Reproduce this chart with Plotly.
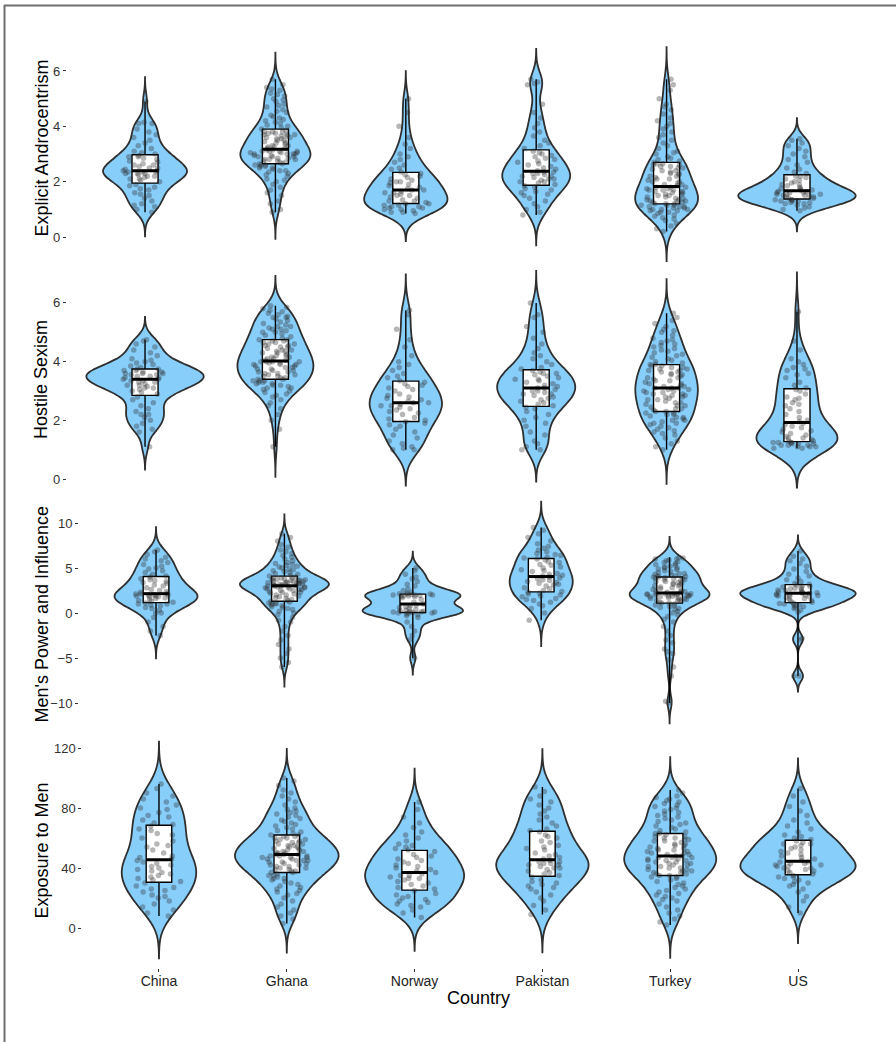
import numpy as np
import plotly.graph_objects as go

countries = ["China", "Ghana", "Norway", "Pakistan", "Turkey", "US"]
measures = ["Explicit Androcentrism", "Hostile Sexism", "Men's Power and Influence", "Exposure to Men"]

# ---------------- Explicit Androcentrism ----------------
ea_china = [0.9, 1.0, 1.1, 1.15, 1.2, 1.3, 1.4, 1.5, 1.55, 1.6, 1.7, 1.75, 1.8, 1.85, 1.9,
            2.0, 2.05, 2.1, 2.1, 2.15, 2.2, 2.2, 2.25, 2.3, 2.3, 2.3, 2.35, 2.35, 2.35, 2.4,
            2.4, 2.45, 2.5, 2.5, 2.55, 2.6, 2.6, 2.65, 2.7, 2.75, 2.8, 2.85, 2.9, 2.9, 2.95,
            3.0, 3.05, 3.1, 3.2, 3.3, 3.4, 3.5, 3.6, 3.7, 3.8, 3.9, 4.1, 4.1, 4.15, 4.9]
ea_ghana = [0.9, 1.0, 1.2, 1.3, 1.5, 1.6, 1.7, 1.8, 1.9, 2.0, 2.05, 2.1, 2.2, 2.25, 2.3, 2.35, 2.4, 2.4,
            2.45, 2.5, 2.5, 2.55, 2.55, 2.6, 2.6, 2.6, 2.65,
            2.65, 2.7, 2.7, 2.75, 2.75, 2.8, 2.8, 2.8, 2.85, 2.85, 2.9, 2.9, 2.9, 2.95, 2.95, 3.0, 3.0,
            3.0, 3.0, 3.05, 3.05, 3.05, 3.1, 3.1, 3.1, 3.1, 3.15,
            3.15, 3.2, 3.2, 3.25, 3.25, 3.3, 3.3, 3.35, 3.4, 3.4, 3.45, 3.5, 3.5, 3.55, 3.55, 3.6, 3.6,
            3.65, 3.65, 3.7, 3.7, 3.7, 3.75, 3.75, 3.8, 3.8, 3.8, 3.85,
            3.9, 3.95, 4.0, 4.05, 4.1, 4.15, 4.2, 4.25, 4.3, 4.35, 4.4, 4.5, 4.55, 4.6, 4.7, 4.75, 4.8,
            4.9, 4.95, 5.0, 5.1, 5.15, 5.2, 5.3, 5.35, 5.4, 5.5, 5.7]
ea_norway = [0.85, 0.9, 0.9, 0.95, 1.0, 1.0, 1.05, 1.05, 1.1, 1.1, 1.15, 1.15, 1.2, 1.2,
             1.25, 1.3, 1.3, 1.35, 1.4, 1.45, 1.5, 1.5, 1.55, 1.6, 1.6, 1.65, 1.7, 1.7,
             1.75, 1.8, 1.85, 1.9, 1.95, 2.0, 2.0, 2.05, 2.1, 2.15, 2.2, 2.25, 2.3,
             2.35, 2.45, 2.5, 2.6, 2.7, 2.8, 2.9, 3.0, 3.2, 3.35, 3.6, 4.0, 4.5, 5.0]
ea_pakistan = [0.8, 0.9, 1.0, 1.1, 1.2, 1.3, 1.4, 1.5, 1.55, 1.6, 1.65, 1.7, 1.75, 1.8, 1.85,
               1.9, 1.95, 2.0, 2.0, 2.05, 2.1, 2.1, 2.15, 2.2, 2.2, 2.25, 2.3, 2.3, 2.35, 2.35,
               2.4, 2.45, 2.5, 2.55, 2.6, 2.65, 2.7, 2.75, 2.8, 2.85, 2.9, 2.95, 3.0, 3.05, 3.1,
               3.2, 3.3, 3.4, 3.5, 3.65, 3.8, 3.95, 4.1, 4.3, 4.5, 4.8, 5.5, 5.55, 5.6, 5.7]
ea_turkey = [0.2, 0.3, 0.4, 0.5, 0.6, 0.65, 0.7, 0.75, 0.8, 0.85, 0.9, 0.9, 0.95, 0.95, 1.0, 1.0,
             1.0, 1.05, 1.05, 1.1, 1.1, 1.1, 1.15, 1.15, 1.15, 1.2, 1.2,
             1.2, 1.25, 1.25, 1.3, 1.3, 1.3, 1.35, 1.35, 1.4, 1.4, 1.45, 1.45, 1.5, 1.5, 1.55, 1.55,
             1.6, 1.6, 1.65, 1.65, 1.7, 1.7, 1.7, 1.75, 1.75, 1.8, 1.8, 1.8,
             1.85, 1.9, 1.9, 1.95, 2.0, 2.0, 2.05, 2.1, 2.1, 2.15, 2.2, 2.2, 2.25, 2.3, 2.3, 2.35,
             2.4, 2.4, 2.45, 2.5, 2.5, 2.55, 2.55, 2.6, 2.6, 2.65, 2.65,
             2.7, 2.75, 2.8, 2.85, 2.9, 3.0, 3.05, 3.1, 3.2, 3.3, 3.4, 3.5, 3.6, 3.7, 3.8, 3.9,
             4.0, 4.1, 4.2, 4.3, 4.45, 4.6, 4.7, 4.8, 5.0, 5.3, 5.5, 5.7]
ea_us = [0.95, 1.0, 1.05, 1.1, 1.15, 1.2, 1.2, 1.25, 1.25, 1.3, 1.3, 1.3, 1.35, 1.35, 1.35,
         1.4, 1.4, 1.45, 1.45, 1.5, 1.5, 1.5, 1.55, 1.55, 1.55, 1.6, 1.6, 1.6, 1.65, 1.65,
         1.7, 1.7, 1.75, 1.75, 1.8, 1.85, 1.9, 1.9, 1.95, 2.0, 2.05, 2.1, 2.15, 2.2, 2.2,
         2.3, 2.35, 2.45, 2.5, 2.6, 2.7, 2.8, 2.9, 3.0, 3.1, 3.2, 3.3, 3.4, 3.5, 3.55]

# ---------------- Hostile Sexism ----------------
hs_china = [1.1, 1.6, 1.7, 1.8, 1.9, 2.0, 2.1, 2.2, 2.2, 2.3, 2.4, 2.5, 2.6, 2.7, 2.8,
            2.9, 2.95, 3.0, 3.05, 3.1, 3.1, 3.15, 3.2, 3.2, 3.25, 3.3, 3.3, 3.35, 3.35, 3.4,
            3.4, 3.45, 3.45, 3.5, 3.5, 3.55, 3.55, 3.6, 3.6, 3.6, 3.65, 3.65, 3.7, 3.7, 3.75,
            3.75, 3.8, 3.85, 3.9, 3.95, 4.0, 4.05, 4.1, 4.2, 4.3, 4.4, 4.5, 4.6, 4.7, 4.75]
hs_ghana = [1.1, 1.7, 2.0, 2.2, 2.4, 2.5, 2.6, 2.7, 2.8, 2.85, 2.9, 2.95, 3.0, 3.05, 3.1, 3.1, 3.15,
            3.2, 3.2, 3.25, 3.25, 3.3, 3.3, 3.35, 3.35, 3.35, 3.4,
            3.4, 3.45, 3.45, 3.5, 3.5, 3.55, 3.55, 3.6, 3.6, 3.65, 3.65, 3.7, 3.7, 3.75, 3.75, 3.8,
            3.8, 3.85, 3.85, 3.9, 3.9, 3.9, 3.95, 3.95, 4.0, 4.0, 4.0, 4.0,
            4.05, 4.05, 4.1, 4.1, 4.15, 4.15, 4.2, 4.2, 4.25, 4.3, 4.3, 4.35, 4.35, 4.4, 4.4, 4.45,
            4.5, 4.5, 4.55, 4.55, 4.6, 4.6, 4.65, 4.65, 4.7, 4.7, 4.75,
            4.75, 4.8, 4.85, 4.9, 4.95, 5.0, 5.0, 5.05, 5.1, 5.1, 5.15, 5.2, 5.2, 5.25, 5.3, 5.35,
            5.4, 5.45, 5.5, 5.5, 5.55, 5.6, 5.65, 5.7, 5.75, 5.8, 5.85, 5.9]
hs_norway = [1.0, 1.0, 1.05, 1.1, 1.2, 1.3, 1.4, 1.5, 1.6, 1.7, 1.8, 1.85, 1.9, 1.95,
             2.0, 2.05, 2.1, 2.2, 2.25, 2.3, 2.35, 2.4, 2.45, 2.5, 2.5, 2.55, 2.6, 2.6,
             2.65, 2.7, 2.75, 2.8, 2.85, 2.9, 3.0, 3.05, 3.1, 3.15, 3.2, 3.25, 3.3,
             3.35, 3.45, 3.5, 3.6, 3.7, 3.8, 3.9, 4.0, 4.2, 4.5, 4.75, 5.1, 5.6, 5.75]
hs_pakistan = [1.0, 1.0, 1.1, 1.2, 1.3, 1.5, 1.6, 1.8, 1.9, 2.0, 2.1, 2.2, 2.3, 2.4, 2.45,
               2.5, 2.55, 2.6, 2.65, 2.7, 2.75, 2.8, 2.85, 2.9, 2.9, 2.95, 3.0, 3.0, 3.05, 3.1,
               3.1, 3.15, 3.2, 3.25, 3.3, 3.35, 3.4, 3.4, 3.45, 3.5, 3.55, 3.6, 3.6, 3.65, 3.7,
               3.75, 3.8, 3.9, 4.0, 4.1, 4.2, 4.3, 4.45, 4.6, 4.8, 5.0, 5.2, 5.5, 5.6, 6.0]
hs_turkey = [1.0, 1.1, 1.2, 1.3, 1.4, 1.5, 1.55, 1.6, 1.65, 1.7, 1.75, 1.8, 1.85, 1.9, 1.9, 1.95,
             2.0, 2.0, 2.05, 2.1, 2.1, 2.15, 2.2, 2.2, 2.25, 2.25, 2.3,
             2.3, 2.35, 2.4, 2.4, 2.45, 2.5, 2.5, 2.55, 2.6, 2.6, 2.65, 2.7, 2.7, 2.75, 2.8, 2.8,
             2.85, 2.85, 2.9, 2.9, 2.95, 2.95, 3.0, 3.0, 3.05, 3.05, 3.1, 3.1,
             3.1, 3.15, 3.15, 3.2, 3.25, 3.25, 3.3, 3.35, 3.35, 3.4, 3.45, 3.45, 3.5, 3.55, 3.55,
             3.6, 3.65, 3.65, 3.7, 3.7, 3.75, 3.75, 3.8, 3.8, 3.85, 3.85, 3.9,
             3.9, 3.95, 4.0, 4.05, 4.1, 4.15, 4.2, 4.25, 4.3, 4.35, 4.4, 4.45, 4.5, 4.55, 4.6, 4.65,
             4.7, 4.75, 4.8, 4.9, 5.0, 5.05, 5.1, 5.2, 5.3, 5.4, 5.5, 5.65]
hs_us = [1.05, 1.05, 1.1, 1.1, 1.1, 1.15, 1.15, 1.15, 1.2, 1.2, 1.2, 1.25, 1.25, 1.25, 1.25,
         1.3, 1.3, 1.35, 1.4, 1.4, 1.45, 1.5, 1.55, 1.6, 1.65, 1.7, 1.75, 1.8, 1.85, 1.9,
         1.95, 2.0, 2.1, 2.2, 2.3, 2.4, 2.5, 2.55, 2.6, 2.7, 2.75, 2.8, 2.9, 3.0, 3.05,
         3.1, 3.2, 3.3, 3.45, 3.55, 3.6, 3.7, 3.75, 3.8, 3.9, 4.0, 4.1, 4.4, 4.7, 5.7]

# ---------------- Men's Power and Influence ----------------
mp_china = [-2.5, -2.0, -1.5, -1.0, -0.5, 0.0, 0.0, 0.3, 0.5, 0.6, 0.8, 0.9, 1.0, 1.0, 1.1,
            1.2, 1.3, 1.4, 1.5, 1.6, 1.7, 1.8, 1.8, 1.9, 1.9, 2.0, 2.0, 2.0, 2.1, 2.1,
            2.2, 2.3, 2.4, 2.5, 2.6, 2.8, 3.0, 3.1, 3.3, 3.4, 3.5, 3.6, 3.7, 3.8, 4.0,
            4.1, 4.3, 4.5, 4.7, 4.9, 5.0, 5.2, 5.4, 5.6, 5.8, 6.0, 6.2, 6.5, 6.8, 7.0]
mp_ghana = [-6.0, -5.5, -5.0, -4.5, -4.0, -3.5, -3.0, -2.5, -2.0, -1.5, -1.0, -0.8, -0.5, -0.2,
            0.0, 0.2, 0.4, 0.5, 0.6, 0.7, 0.8, 0.9, 1.0, 1.0, 1.1, 1.1, 1.2,
            1.3, 1.4, 1.5, 1.6, 1.7, 1.8, 1.9, 2.0, 2.0, 2.1, 2.2, 2.3, 2.3, 2.4, 2.5, 2.5, 2.6,
            2.6, 2.7, 2.7, 2.8, 2.8, 2.9, 2.9, 2.9, 3.0, 3.0, 3.0,
            3.05, 3.1, 3.1, 3.15, 3.2, 3.2, 3.25, 3.3, 3.3, 3.35, 3.4, 3.4, 3.45, 3.5, 3.5, 3.55,
            3.6, 3.6, 3.65, 3.7, 3.7, 3.75, 3.8, 3.85, 3.9, 3.95, 4.0,
            4.1, 4.2, 4.3, 4.4, 4.5, 4.6, 4.7, 4.8, 4.9, 5.0, 5.1, 5.2, 5.3, 5.4, 5.5, 5.6, 5.8,
            6.0, 6.2, 6.4, 6.6, 6.8, 7.0, 7.3, 7.6, 8.0, 8.4, 8.8]
mp_norway = [-5.0, -3.0, -2.5, -2.0, -1.5, -1.0, -0.5, -0.3, -0.2, -0.1, 0.0, 0.0, 0.0, 0.05,
             0.1, 0.1, 0.15, 0.2, 0.2, 0.25, 0.3, 0.4, 0.5, 0.6, 0.7, 0.8, 0.9, 1.0,
             1.2, 1.5, 1.7, 1.8, 1.85, 1.9, 1.9, 1.95, 2.0, 2.0, 2.0, 2.05, 2.1,
             2.1, 2.15, 2.2, 2.3, 2.5, 2.7, 3.0, 3.2, 3.5, 3.8, 4.0, 4.3, 4.7, 5.0]
mp_pakistan = [-0.8, 0.0, 0.5, 0.8, 1.0, 1.2, 1.4, 1.5, 1.6, 1.8, 1.9, 2.0, 2.1, 2.2, 2.3,
               2.4, 2.5, 2.7, 2.8, 3.0, 3.1, 3.2, 3.3, 3.4, 3.5, 3.6, 3.7, 3.8, 3.9, 4.0,
               4.1, 4.2, 4.3, 4.4, 4.6, 4.7, 4.8, 5.0, 5.1, 5.3, 5.4, 5.6, 5.7, 5.9, 6.0,
               6.1, 6.2, 6.4, 6.5, 6.6, 6.8, 7.0, 7.2, 7.4, 7.7, 8.0, 8.4, 8.8, 9.2, 9.5]
mp_turkey = [-10.0, -9.8, -7.0, -6.0, -5.2, -4.5, -4.3, -4.0, -3.3, -3.0, -2.5, -2.0, -1.5, -1.0,
             -0.7, -0.4, -0.2, 0.0, 0.2, 0.4, 0.5, 0.6, 0.7, 0.8, 0.9, 1.0, 1.1,
             1.1, 1.2, 1.3, 1.4, 1.4, 1.5, 1.5, 1.6, 1.6, 1.7, 1.7, 1.8, 1.8, 1.85, 1.9, 1.9,
             1.95, 2.0, 2.0, 2.0, 2.05, 2.1, 2.1, 2.1, 2.15, 2.15, 2.2, 2.2,
             2.25, 2.3, 2.35, 2.4, 2.45, 2.5, 2.6, 2.7, 2.8, 2.9, 3.0, 3.0, 3.1, 3.2, 3.3, 3.3,
             3.4, 3.5, 3.5, 3.6, 3.7, 3.7, 3.8, 3.8, 3.9, 3.95, 4.0,
             4.0, 4.05, 4.1, 4.15, 4.2, 4.3, 4.35, 4.4, 4.5, 4.6, 4.7, 4.8, 4.9, 5.0, 5.0, 5.1,
             5.2, 5.3, 5.4, 5.5, 5.6, 5.7, 5.8, 5.9, 6.0, 6.0, 6.1, 6.2]
mp_us = [-7.0, -7.0, -3.0, -2.8, 0.1, 0.3, 0.5, 0.6, 0.7, 0.8, 0.9, 1.0, 1.0, 1.05, 1.1,
         1.2, 1.3, 1.4, 1.5, 1.6, 1.7, 1.8, 1.85, 1.9, 1.95, 2.0, 2.0, 2.05, 2.1, 2.2,
         2.2, 2.25, 2.3, 2.35, 2.4, 2.5, 2.55, 2.6, 2.7, 2.75, 2.8, 2.9, 2.95, 3.0, 3.1,
         3.2, 3.3, 3.5, 3.7, 3.9, 4.1, 4.3, 4.6, 4.9, 5.2, 5.5, 5.8, 6.0, 6.3, 6.9]

# ---------------- Exposure to Men ----------------
em_china = [8, 10, 12, 14, 16, 18, 20, 21, 22, 24, 25, 26, 27, 28, 30,
            31, 32, 33, 34, 35, 36, 37, 38, 39, 40, 41, 42, 43, 44, 45,
            46, 47, 48, 50, 52, 54, 55, 56, 58, 60, 62, 63, 65, 66, 68,
            69, 70, 72, 74, 75, 77, 79, 80, 82, 84, 86, 88, 90, 93, 96]
em_ghana = [3, 6, 8, 10, 12, 14, 16, 18, 20, 22, 23, 24, 25, 26, 27, 28, 29, 30, 31, 32, 33, 33,
            34, 35, 35, 36, 37,
            37, 38, 38, 39, 39, 40, 40, 41, 41, 42, 42, 43, 43, 44, 44, 45, 45, 45, 46, 46, 47,
            47, 47, 48, 48, 48, 49, 49,
            49, 50, 50, 50, 51, 51, 52, 52, 53, 53, 54, 54, 55, 55, 56, 56, 57, 57, 58, 58, 59,
            59, 60, 60, 61, 61, 62,
            62, 63, 64, 65, 66, 67, 68, 69, 70, 71, 72, 73, 74, 75, 76, 77, 78, 79, 80, 82, 84,
            86, 88, 90, 92, 95, 98, 100]
em_norway = [7, 10, 12, 14, 15, 16, 17, 18, 19, 20, 21, 22, 23, 25,
             26, 27, 28, 29, 30, 31, 32, 33, 33, 34, 35, 35, 36, 37,
             38, 39, 40, 41, 42, 43, 44, 45, 46, 47, 48, 49, 51,
             52, 53, 54, 55, 56, 58, 60, 62, 64, 67, 70, 74, 79, 84]
em_pakistan = [9, 12, 15, 18, 20, 22, 24, 26, 27, 28, 29, 30, 31, 32, 34,
               35, 36, 37, 38, 39, 40, 40, 41, 42, 42, 43, 43, 44, 44, 45,
               46, 47, 48, 49, 50, 52, 53, 54, 55, 57, 58, 60, 61, 62, 64,
               65, 66, 68, 70, 72, 74, 76, 78, 80, 82, 84, 86, 88, 91, 94]
em_turkey = [2, 4, 6, 8, 10, 12, 14, 16, 18, 19, 20, 21, 22, 23, 24, 25, 26, 27, 28, 29, 30, 31,
             32, 33, 34, 34, 35,
             35, 36, 36, 37, 37, 38, 38, 39, 39, 40, 40, 41, 41, 42, 42, 43, 43, 44, 44, 45, 45,
             45, 46, 46, 47, 47, 47, 48,
             48, 49, 49, 50, 50, 51, 51, 52, 52, 53, 53, 54, 55, 55, 56, 56, 57, 58, 58, 59, 59,
             60, 60, 61, 61, 62, 63,
             63, 64, 65, 66, 67, 68, 69, 70, 71, 72, 73, 74, 75, 76, 77, 78, 79, 80, 81, 82, 83,
             84, 85, 86, 87, 88, 90, 92]
em_us = [10, 14, 18, 21, 24, 26, 28, 29, 30, 31, 32, 33, 34, 34, 35,
         36, 37, 38, 38, 39, 40, 40, 41, 41, 42, 42, 43, 43, 44, 44,
         45, 46, 47, 48, 49, 50, 51, 52, 53, 54, 55, 56, 56, 57, 58,
         59, 60, 61, 62, 64, 66, 68, 70, 72, 75, 78, 81, 84, 88, 93]

rows = [
    [ea_china, ea_ghana, ea_norway, ea_pakistan, ea_turkey, ea_us],
    [hs_china, hs_ghana, hs_norway, hs_pakistan, hs_turkey, hs_us],
    [mp_china, mp_ghana, mp_norway, mp_pakistan, mp_turkey, mp_us],
    [em_china, em_ghana, em_norway, em_pakistan, em_turkey, em_us],
]
y_ticks = [[0, 2, 4, 6], [0, 2, 4, 6], [-10, -5, 0, 5, 10], [0, 40, 80, 120]]

# ---------------- layout geometry (pixels) ----------------
W, H = 896, 1042
x_px = [(66.8, 875.2), (66.8, 875.2), (79.0, 875.0), (82.3, 874.7)]
y_px = [(35, 262), (263, 497), (498, 731), (733, 968)]
y_ranges = [[-0.90, 7.30], [-0.61, 7.36], [-13.11, 12.78], [-26.67, 130.0]]

FILL = "#87CEFA"
OUTLINE = "#2f2f2f"
FONT = "Liberation Sans, Arial, Helvetica, sans-serif"

fig = go.Figure()
for r, groups in enumerate(rows):
    xa = "x" if r == 0 else f"x{r+1}"
    ya = "y" if r == 0 else f"y{r+1}"
    allx, ally = [], []
    for i, vals in enumerate(groups):
        v = np.asarray(vals, dtype=float)
        n = len(v)
        q1, q3 = np.percentile(v, [25, 75])
        bw = 0.9 * min(v.std(ddof=1), (q3 - q1) / 1.34) * n ** -0.2
        fig.add_trace(go.Violin(
            x=[i] * n, y=v, xaxis=xa, yaxis=ya,
            bandwidth=bw, spanmode="manual", span=[v.min() - 3 * bw, v.max() + 3 * bw],
            scalegroup=f"row{r}", scalemode="width",
            fillcolor=FILL, line=dict(color=OUTLINE, width=1.8),
            points=False, box_visible=False, meanline_visible=False,
            showlegend=False, hoverinfo="skip", opacity=1,
        ))
        allx += [i] * n
        ally += list(v)
    # boxes
    fig.add_trace(go.Box(
        x=allx, y=ally, xaxis=xa, yaxis=ya, width=0.2,
        fillcolor="white", line=dict(color="black", width=1.4), whiskerwidth=0,
        boxpoints=False, showlegend=False, hoverinfo="skip",
    ))
    # jittered points
    fig.add_trace(go.Box(
        x=allx, y=ally, xaxis=xa, yaxis=ya, width=0.4,
        fillcolor="rgba(0,0,0,0)", line=dict(color="rgba(0,0,0,0)", width=0),
        boxpoints="all", jitter=1, pointpos=0,
        marker=dict(size=5.5, color="rgba(40,40,40,0.34)", line=dict(width=0)),
        showlegend=False, hoverinfo="skip",
    ))
    # thick median lines
    mx, my = [], []
    for i, vals in enumerate(groups):
        m = float(np.median(vals))
        mx += [i - 0.1, i + 0.1, None]
        my += [m, m, None]
    fig.add_trace(go.Scatter(x=mx, y=my, xaxis=xa, yaxis=ya, mode="lines",
                             line=dict(color="black", width=3), showlegend=False, hoverinfo="skip"))

layout = dict(
    width=W, height=H, margin=dict(l=0, r=0, t=0, b=0), template="none",
    paper_bgcolor="white", plot_bgcolor="white",
    violinmode="overlay", violingap=0.1, violingroupgap=0, boxmode="overlay",
    font=dict(family=FONT, color="#333333"), showlegend=False,
)
annotations = []
for r in range(4):
    xk = "xaxis" if r == 0 else f"xaxis{r+1}"
    yk = "yaxis" if r == 0 else f"yaxis{r+1}"
    xa = "x" if r == 0 else f"x{r+1}"
    ya = "y" if r == 0 else f"y{r+1}"
    last = r == 3
    layout[xk] = dict(
        domain=[x_px[r][0] / W, x_px[r][1] / W], range=[-0.6, 5.6], anchor=ya,
        tickvals=list(range(len(countries))), ticktext=countries,
        showticklabels=last, ticks="outside" if last else "", ticklen=3, tickwidth=1,
        tickcolor="#333333", tickfont=dict(size=14, color="#222222"),
        ticklabelstandoff=-3,
        showgrid=False, zeroline=False, showline=False, automargin=False,
    )
    layout[yk] = dict(
        domain=[1 - y_px[r][1] / H, 1 - y_px[r][0] / H], range=y_ranges[r], anchor=xa,
        tickvals=y_ticks[r], ticks="outside", ticklen=3, tickwidth=1, tickcolor="#333333",
        tickfont=dict(size=13, color="#333333"),
        showgrid=False, zeroline=False, showline=False, automargin=False,
    )
    annotations.append(dict(
        text=measures[r], x=41 / W, y=1 - (y_px[r][0] + y_px[r][1]) / 2 / H,
        xref="paper", yref="paper", textangle=-90, showarrow=False,
        font=dict(size=18, color="black", family=FONT), xanchor="center", yanchor="middle",
    ))
annotations.append(dict(
    text="Country", x=(x_px[3][0] + x_px[3][1]) / 2 / W, y=1 - 998 / H,
    xref="paper", yref="paper", showarrow=False,
    font=dict(size=18, color="black", family=FONT), xanchor="center", yanchor="middle",
))
layout["annotations"] = annotations
layout["shapes"] = [
    dict(type="line", xref="paper", yref="paper", x0=4 / W, x1=1, y0=1 - 5.5 / H, y1=1 - 5.5 / H,
         line=dict(color="#6e6e6e", width=2)),
    dict(type="line", xref="paper", yref="paper", x0=4.5 / W, x1=4.5 / W, y0=0, y1=1 - 5 / H,
         line=dict(color="#6e6e6e", width=2)),
]
fig.update_layout(**layout)
fig.write_html("out.html", config={"displayModeBar": False},
               post_script="document.body.style.margin='0';")
